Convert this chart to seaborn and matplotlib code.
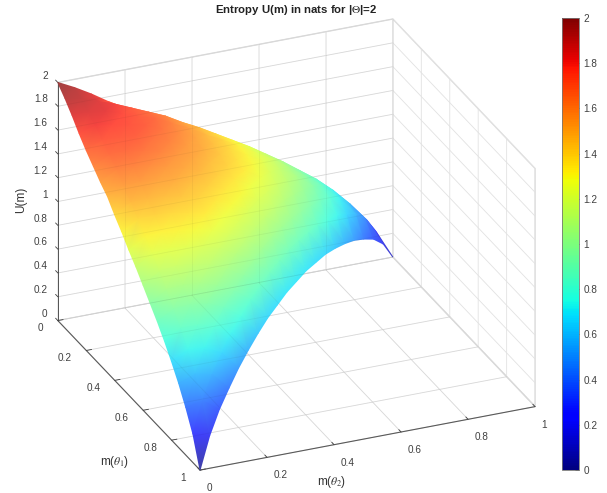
import numpy as np
import matplotlib
matplotlib.use('Agg')
import matplotlib.pyplot as plt
from matplotlib.colors import ListedColormap
from mpl_toolkits.mplot3d import proj3d
import seaborn as sns

# surface heights, one row per m(theta1) level,
# each row running over m(theta2) from 0 up to 1 - m(theta1)
m_levels = [0, 0.05, 0.1, 0.15, 0.2, 0.25, 0.3, 0.35, 0.4, 0.45, 0.5,
            0.55, 0.6, 0.65, 0.7, 0.75, 0.8, 0.85, 0.9, 0.95, 1]
U_rows = [
    [2.00, 1.93, 1.85, 1.76, 1.68, 1.61, 1.54, 1.48, 1.39, 1.31, 1.22, 1.14, 1.05, 0.96, 0.87, 0.77, 0.66, 0.54, 0.40, 0.24, 0.00],
    [1.93, 1.90, 1.85, 1.80, 1.74, 1.68, 1.62, 1.54, 1.47, 1.39, 1.31, 1.23, 1.14, 1.05, 0.95, 0.85, 0.73, 0.59, 0.43, 0.20],
    [1.85, 1.85, 1.83, 1.78, 1.73, 1.69, 1.62, 1.55, 1.47, 1.40, 1.32, 1.24, 1.16, 1.06, 0.96, 0.85, 0.72, 0.56, 0.33],
    [1.76, 1.80, 1.78, 1.75, 1.72, 1.66, 1.60, 1.53, 1.46, 1.39, 1.31, 1.23, 1.14, 1.05, 0.94, 0.81, 0.65, 0.42],
    [1.68, 1.74, 1.73, 1.72, 1.67, 1.62, 1.56, 1.50, 1.43, 1.36, 1.29, 1.20, 1.11, 1.00, 0.88, 0.73, 0.50],
    [1.61, 1.68, 1.69, 1.66, 1.62, 1.57, 1.52, 1.46, 1.40, 1.33, 1.25, 1.16, 1.05, 0.93, 0.78, 0.56],
    [1.54, 1.62, 1.62, 1.60, 1.56, 1.52, 1.47, 1.41, 1.35, 1.27, 1.19, 1.09, 0.97, 0.83, 0.61],
    [1.48, 1.54, 1.55, 1.53, 1.50, 1.46, 1.41, 1.35, 1.29, 1.21, 1.12, 1.00, 0.86, 0.65],
    [1.39, 1.47, 1.47, 1.46, 1.43, 1.40, 1.35, 1.29, 1.21, 1.13, 1.02, 0.88, 0.67],
    [1.31, 1.39, 1.40, 1.39, 1.36, 1.33, 1.27, 1.21, 1.13, 1.03, 0.89, 0.69],
    [1.22, 1.31, 1.32, 1.31, 1.29, 1.25, 1.19, 1.12, 1.02, 0.89, 0.69],
    [1.14, 1.23, 1.24, 1.23, 1.20, 1.16, 1.09, 1.00, 0.88, 0.69],
    [1.05, 1.14, 1.16, 1.14, 1.11, 1.05, 0.97, 0.86, 0.67],
    [0.96, 1.05, 1.06, 1.05, 1.00, 0.93, 0.83, 0.65],
    [0.87, 0.95, 0.96, 0.94, 0.88, 0.78, 0.61],
    [0.77, 0.85, 0.85, 0.81, 0.73, 0.56],
    [0.66, 0.73, 0.72, 0.65, 0.50],
    [0.54, 0.59, 0.56, 0.42],
    [0.40, 0.43, 0.33],
    [0.24, 0.20],
    [0.00],
]
ticks = [0, 0.2, 0.4, 0.6, 0.8, 1]
zticks = [0, 0.2, 0.4, 0.6, 0.8, 1, 1.2, 1.4, 1.6, 1.8, 2]

sns.set_theme(style='white', font='Liberation Sans')
plt.rcParams['mathtext.fontset'] = 'stix'
jet = plt.get_cmap('jet')
# the surface is see-through in the original: jet at 3/4 strength over white
soft_jet = ListedColormap(0.75 * jet(np.linspace(0, 1, 256)) + 0.25)

m1, m2, u, tris = [], [], [], []
idx = {}
for i, row in enumerate(U_rows):
    for j, val in enumerate(row):
        idx[(i, j)] = len(u)
        m1.append(m_levels[i])
        m2.append(m_levels[j])
        u.append(val)
for i in range(len(U_rows) - 1):
    for j in range(len(U_rows[i]) - 1):
        tris.append([idx[(i, j)], idx[(i + 1, j)], idx[(i, j + 1)]])
        if (i + 1, j + 1) in idx:
            tris.append([idx[(i + 1, j)], idx[(i + 1, j + 1)], idx[(i, j + 1)]])

W, H = 607, 493
fig = plt.figure(figsize=(W / 100, H / 100), dpi=100)
S = 500
rect = [39.7 / W, -8.3 / H, S / W, S / H]
ax = fig.add_axes(rect, projection='3d', proj_type='ortho')
ax.view_init(elev=26.5, azim=-23)
ax.set_box_aspect((1, 1, 0.731), zoom=1.125)
ax.set_xlim(0, 1, view_margin=0)
ax.set_ylim(0, 1, view_margin=0)
ax.set_zlim(0, 2, view_margin=0)
lab = ['%g' % v for v in ticks]
zlab = ['%g' % v for v in zticks]
ax.set_xticks(ticks, lab, ha='right', va='bottom')
ax.set_yticks(ticks, lab, ha='left', va='center')
ax.set_zticks(zticks, zlab, ha='right', va='bottom')
ax.tick_params(labelsize=7.2, colors='#404040', pad=0)
ax.tick_params(axis='y', pad=0.7)
ax.tick_params(axis='z', pad=-4)
for a in (ax.xaxis, ax.yaxis, ax.zaxis):
    a.set_pane_color((1, 1, 1, 1))
    a.pane.set_edgecolor('#dddddd')
    a._axinfo['grid'].update(color='#e2e2e2', linewidth=0.6)
    a._axinfo['tick'].update(inward_factor=0, outward_factor=0.2, linewidth={True: 0.6, False: 0.4})
    a.line.set_color('#555555')
    a.line.set_linewidth(0.7)
ax.zaxis._axinfo['juggled'] = (1, 2, 0)

# mplot3d only has flat facets, so put the surface through the 3d projection and
# shade it smoothly on a clear 2d axes laid over the same square
proj = ax.get_proj()
sx, sy, _ = proj3d.proj_transform(np.array(m1), np.array(m2), np.array(u), proj)
over = fig.add_axes(rect)
over.set_axis_off()
over.set_xlim(ax.viewLim.intervalx)
over.set_ylim(ax.viewLim.intervaly)
over.tripcolor(sx, sy, tris, np.array(u), shading='gouraud', cmap=soft_jet, vmin=0, vmax=2)


def ghost(xs, ys, zs):
    # wall and floor grid showing faintly through the surface
    lx, ly, _ = proj3d.proj_transform(np.array(xs, float), np.array(ys, float), np.array(zs, float), proj)
    over.plot(lx, ly, color='k', alpha=0.05, lw=0.6)


for v in zticks:
    ghost([0, 0], [0, 1], [v, v])
for v in ticks:
    ghost([0, 0], [v, v], [0, 2])
    ghost([0, 1], [v, v], [0, 0])
    ghost([v, v], [0, 1], [0, 0])
over.set_xlim(ax.viewLim.intervalx)
over.set_ylim(ax.viewLim.intervaly)

fig.text(296 / W, 1 - 10 / H, r'Entropy U(m) in nats for |$\Theta$|=2', ha='center', va='center',
         fontsize=8.2, fontweight='bold', color='#222222')
fig.text(115 / W, 1 - 462 / H, r'm($\theta_1$)', ha='center', va='center', fontsize=8.5, color='#333333')
fig.text(332 / W, 1 - 482 / H, r'm($\theta_2$)', ha='center', va='center', fontsize=8.5, color='#333333')
fig.text(21 / W, 1 - 200 / H, 'U(m)', rotation=90, ha='center', va='center', fontsize=8.5, color='#333333')

cax = fig.add_axes([562 / W, (H - 470) / H, 17 / W, 452 / H])
sm = plt.cm.ScalarMappable(norm=plt.Normalize(0, 2), cmap=jet)
cb = fig.colorbar(sm, cax=cax, ticks=zticks)
cb.ax.set_yticklabels(zlab)
cb.ax.tick_params(direction='in', length=3, width=0.6, labelsize=7.2, colors='#404040', pad=3)
cb.outline.set_edgecolor('#777777')
cb.outline.set_linewidth(0.6)
fig.savefig('out.png', dpi=100)
